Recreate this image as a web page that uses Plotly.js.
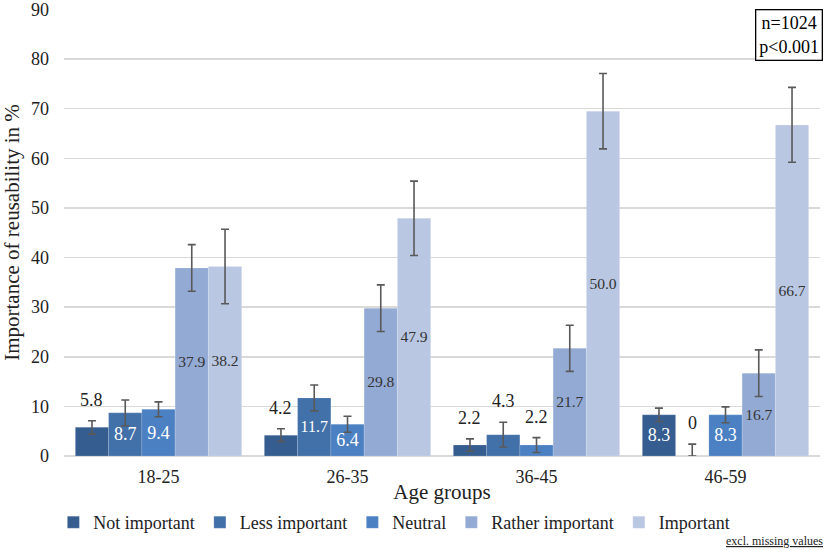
<!DOCTYPE html>
<html>
<head>
<meta charset="utf-8">
<script src="https://cdn.plot.ly/plotly-3.0.1.min.js"></script>
<style>html,body{margin:0;padding:0;background:#fff;}#chart{width:829px;height:550px;}</style>
</head>
<body>
<div id="chart"></div>
<script>
// ---- data ----
const categories = ['18-25', '26-35', '36-45', '46-59'];
const seriesNames = ['Not important', 'Less important', 'Neutral', 'Rather important', 'Important'];

const notImportant = [5.8, 4.2, 2.2, 8.3];
const lessImportant = [8.7, 11.7, 4.3, 0];
const neutral = [9.4, 6.4, 2.2, 8.3];
const ratherImportant = [37.9, 29.8, 21.7, 16.7];
const important = [38.2, 47.9, 69.5, 66.7];

const notImportantLabels = ['5.8', '4.2', '2.2', '8.3'];
const lessImportantLabels = ['8.7', '11.7', '4.3', '0'];
const neutralLabels = ['9.4', '6.4', '2.2', '8.3'];
const ratherImportantLabels = ['37.9', '29.8', '21.7', '16.7'];
const importantLabels = ['38.2', '47.9', '50.0', '66.7'];

const notImportantErrPlus = [1.3, 1.3, 1.25, 1.35];
const notImportantErrMinus = [1.4, 1.3, 1.25, 1.35];
const lessImportantErrPlus = [2.6, 2.6, 2.5, 2.4];
const lessImportantErrMinus = [2.6, 2.6, 2.5, 0];
const neutralErrPlus = [1.5, 1.6, 1.5, 1.6];
const neutralErrMinus = [1.5, 1.6, 1.5, 1.6];
const ratherImportantErrPlus = [4.7, 4.7, 4.65, 4.7];
const ratherImportantErrMinus = [4.7, 4.7, 4.65, 4.7];
const importantErrPlus = [7.5, 7.5, 7.6, 7.6];
const importantErrMinus = [7.5, 7.5, 7.6, 7.5];

const yTicks = [0, 10, 20, 30, 40, 50, 60, 70, 80, 90];

// label placement style: 'in' inside the bar, 'out' above the error bar
const notImportantPos = ['out', 'out', 'out', 'in'];
const lessImportantPos = ['in', 'in', 'out', 'out'];
const neutralPos = ['in', 'in', 'out', 'in'];
const ratherImportantPos = ['in', 'in', 'in', 'in'];
const importantPos = ['in', 'in', 'in', 'in'];

// ---- style ----
const colors = ['#355d8f', '#4270a8', '#4b80c2', '#93aad4', '#b9c7e2'];
const insideTextColors = ['#ffffff', '#ffffff', '#ffffff', '#333333', '#333333'];
const FONT = 'Liberation Serif, Times New Roman, serif';

const values = [notImportant, lessImportant, neutral, ratherImportant, important];
const labels = [notImportantLabels, lessImportantLabels, neutralLabels, ratherImportantLabels, importantLabels];
const errP = [notImportantErrPlus, lessImportantErrPlus, neutralErrPlus, ratherImportantErrPlus, importantErrPlus];
const errM = [notImportantErrMinus, lessImportantErrMinus, neutralErrMinus, ratherImportantErrMinus, importantErrMinus];
const pos = [notImportantPos, lessImportantPos, neutralPos, ratherImportantPos, importantPos];

const bargap = 0.12;
const barW = (1 - bargap) / seriesNames.length;

const traces = [];
const annotations = [];
seriesNames.forEach((name, s) => {
  traces.push({
    type: 'bar',
    name: name,
    x: categories,
    y: values[s],
    text: labels[s].map((t, i) => pos[s][i] === 'in' ? t : ''),
    textposition: 'inside',
    insidetextanchor: 'middle',
    insidetextfont: {family: FONT, size: 18, color: insideTextColors[s]},
    textangle: 0,
    marker: {color: colors[s], line: {color: 'rgba(255,255,255,0.25)', width: 0.6}},
    error_y: {
      type: 'data', symmetric: false,
      array: errP[s], arrayminus: errM[s],
      color: '#595959', thickness: 1.6, width: 4
    },
    hoverinfo: 'skip'
  });
  labels[s].forEach((t, i) => {
    if (pos[s][i] === 'out') {
      annotations.push({
        x: i + (s - (seriesNames.length - 1) / 2) * barW,
        y: values[s][i] + errP[s][i],
        xref: 'x', yref: 'y',
        text: t, showarrow: false,
        yanchor: 'middle', yshift: 21,
        font: {family: FONT, size: 18, color: '#222'}
      });
    }
  });
});

annotations.push({
  xref: 'paper', yref: 'paper', x: 1.004, y: 1.0, xanchor: 'right', yanchor: 'top',
  text: 'n=1024<br>p<0.001', showarrow: false, align: 'center',
  bordercolor: '#000', borderwidth: 1.3, borderpad: 3, bgcolor: '#fff',
  font: {family: FONT, size: 18, color: '#000'}
});
annotations.push({
  xref: 'paper', yref: 'paper', x: 1.006, y: -0.19, xanchor: 'right', yanchor: 'middle',
  text: '<u>excl. missing values</u>', showarrow: false,
  font: {family: FONT, size: 12, color: '#222'}
});

const layout = {
  width: 829, height: 550,
  margin: {l: 64, r: 9, t: 9, b: 94},
  paper_bgcolor: '#fff', plot_bgcolor: '#fff',
  barmode: 'group', bargap: bargap, bargroupgap: 0,
  font: {family: FONT, size: 18, color: '#222'},
  showlegend: true,
  legend: {
    orientation: 'h', xref: 'paper', yref: 'container',
    x: 0.437, xanchor: 'center', y: 0.05, yanchor: 'middle',
    font: {family: FONT, size: 18, color: '#222'},
    itemwidth: 30, tracegroupgap: 0, traceorder: 'normal'
  },
  xaxis: {
    type: 'category',
    tickfont: {family: FONT, size: 18, color: '#222'},
    ticks: '', showline: false, showgrid: false, ticklabelstandoff: 8,
    title: {text: 'Age groups', font: {family: FONT, size: 21, color: '#222'}, standoff: 0}
  },
  yaxis: {
    range: [0, 90.1], tickvals: yTicks,
    tickfont: {family: FONT, size: 18, color: '#222'},
    ticklabeloverflow: 'allow',
    showgrid: true, gridcolor: '#d9d9d9', gridwidth: 1.5,
    zeroline: true, zerolinecolor: '#d9d9d9', zerolinewidth: 1.5,
    showline: false, ticks: '', ticklabelstandoff: 14,
    title: {text: 'Importance of reusability in %', font: {family: FONT, size: 21, color: '#222'}, standoff: 8}
  },
  annotations: annotations
};

Plotly.newPlot('chart', traces, layout, {displayModeBar: false, staticPlot: true});
</script>
</body>
</html>
